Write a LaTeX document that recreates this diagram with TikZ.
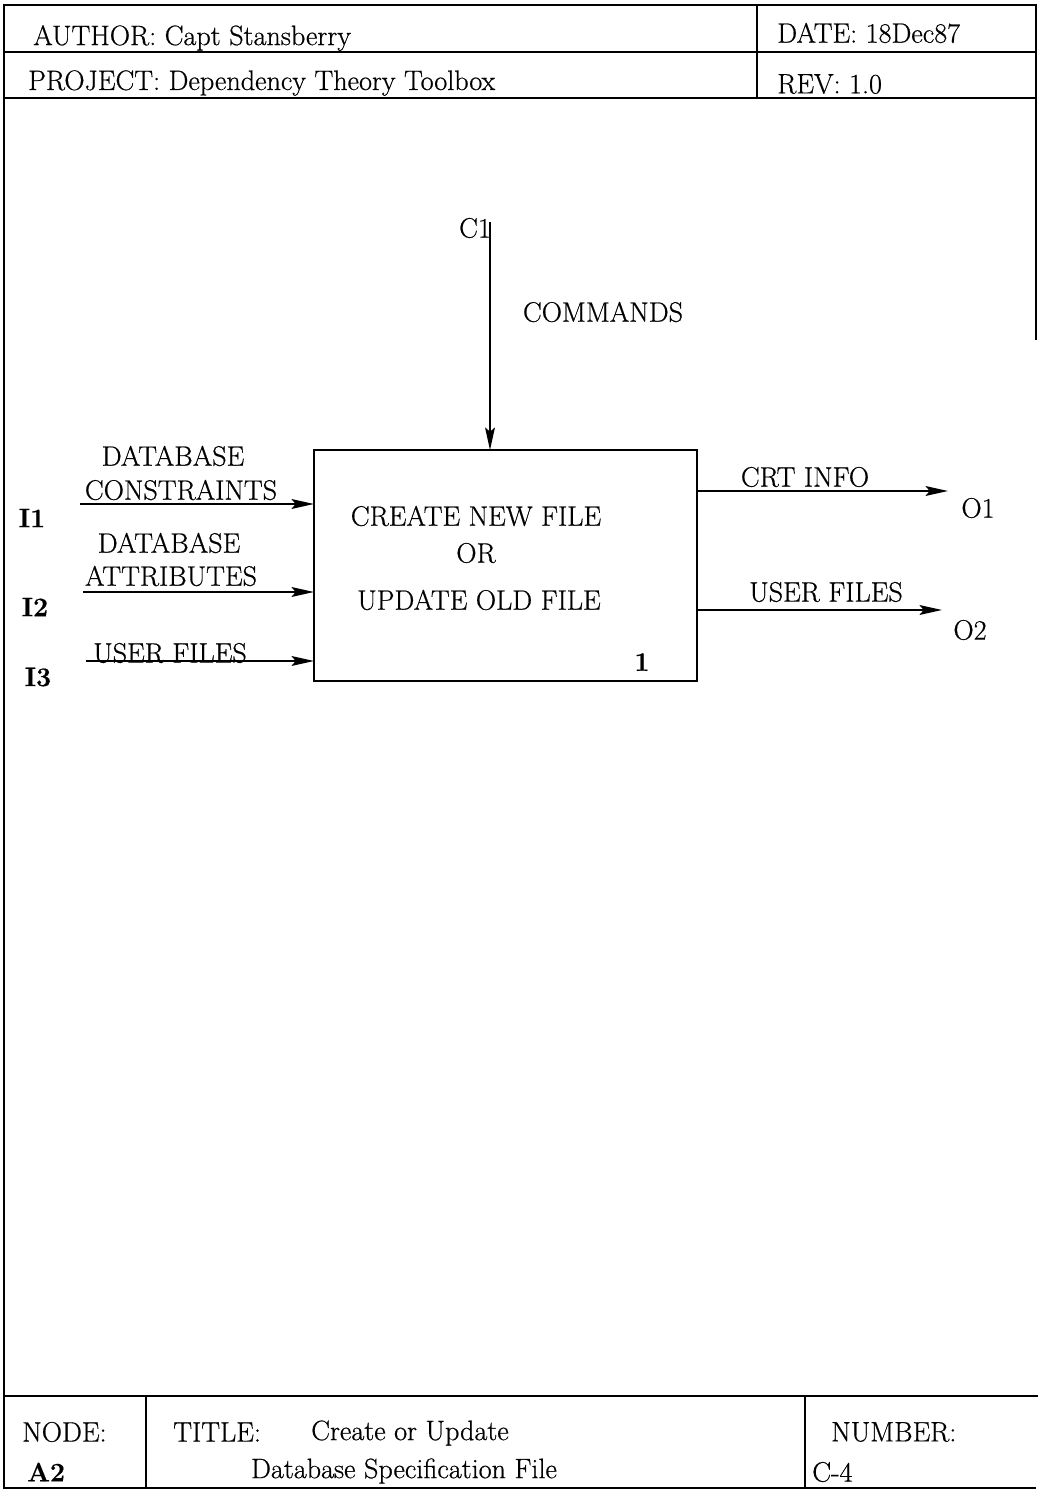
\documentclass[tikz,border=0pt]{standalone}
\usepackage{fontspec}
\setmainfont{Latin Modern Roman}[FakeBold=0.6]
\usepackage{tikz}
\usetikzlibrary{calc, positioning, arrows.meta}

\begin{document}
\begin{tikzpicture}[x=0.025cm, y=-0.025cm,
    rule/.style={line width=1.1pt},
    flow/.style={line width=1.3pt, -{Stealth[length=16pt, width=7pt, inset=3pt]}},
    lbl/.style={font=\fontsize{20}{23}\selectfont, inner sep=0pt},
    io/.style={font=\fontsize{19}{22}\selectfont\bfseries, inner sep=0pt},
    hdr/.style={font=\fontsize{20}{23}\selectfont, inner sep=0pt, anchor=west}]
  \useasboundingbox (0,0) rectangle (1038,1491);

  % form frame
  \draw[rule] (1036,340) -- (1036,5) -- (4,5) -- (4,1488) -- (1036,1488);
  \draw[rule] (4,52) -- (1036,52);
  \draw[rule] (4,98) -- (1036,98);
  \draw[rule] (757,5) -- (757,98);
  \draw[rule] (4,1396) -- (1038,1396);
  \draw[rule] (146,1396) -- (146,1488);
  \draw[rule] (805,1396) -- (805,1488);

  % header and footer fields
  \node[hdr] (author) at (33,38) {AUTHOR: Capt Stansberry};
  \node[hdr] (date) at (777,33) {DATE: 18Dec87};
  \node[hdr] (project) at (28,83) {PROJECT: Dependency Theory Toolbox};
  \node[hdr] (rev) at (777,84) {REV: 1.0};
  \node[hdr] (nodelbl) at (22,1432) {NODE:};
  \node[hdr, font=\fontsize{19}{22}\selectfont\bfseries] (nodeid) at (27,1472) {A2};
  \node[hdr] (titlelbl) at (173,1432) {TITLE:};
  \node[lbl] (title1) at (410,1433) {Create or Update};
  \node[lbl] (title2) at (404,1471) {Database Specification File};
  \node[hdr] (numlbl) at (831,1432) {NUMBER:};
  \node[hdr] (numid) at (812,1472) {C-4};

  % activity box
  \draw[line width=1.4pt] (314,450) rectangle (697,681);
  \node[lbl] (t1) at (476,516) {CREATE NEW FILE};
  \node[lbl] (t2) at (476,553) {OR};
  \node[lbl] (t3) at (479,600) {UPDATE OLD FILE};
  \node[io] (num) at (642,662) {1};

  % control
  \node[lbl] (c1) at (475,228) {C1};
  \coordinate (c1top) at (490,222);
  \draw[flow] (c1top) -- (490,450);
  \node[lbl] (commands) at (603,312) {COMMANDS};

  % inputs
  \coordinate (i1s) at (80,504);
  \coordinate (i2s) at (83,592);
  \coordinate (i3s) at (86,661);
  \draw[flow] (i1s) -- (314,504);
  \draw[flow] (i2s) -- (314,592);
  \draw[flow] (i3s) -- (314,661);
  \node[io] (i1) at (32,518) {I1};
  \node[io] (i2) at (35,607) {I2};
  \node[io] (i3) at (38,677) {I3};
  \node[lbl] (in1a) at (173,456) {DATABASE};
  \node[lbl] (in1b) at (181,490) {CONSTRAINTS};
  \node[lbl] (in2a) at (169,543) {DATABASE};
  \node[lbl] (in2b) at (171,576) {ATTRIBUTES};
  \node[lbl] (in3) at (170,653) {USER FILES};

  % outputs
  \coordinate (o1e) at (948,491);
  \coordinate (o2e) at (942,610);
  \draw[flow] (697,491) -- (o1e);
  \draw[flow] (697,610) -- (o2e);
  \node[lbl] (out1) at (805,477) {CRT INFO};
  \node[lbl] (out2) at (826,592) {USER FILES};
  \node[lbl] (o1) at (978,508) {O1};
  \node[lbl] (o2) at (970,630) {O2};
\end{tikzpicture}
\end{document}
